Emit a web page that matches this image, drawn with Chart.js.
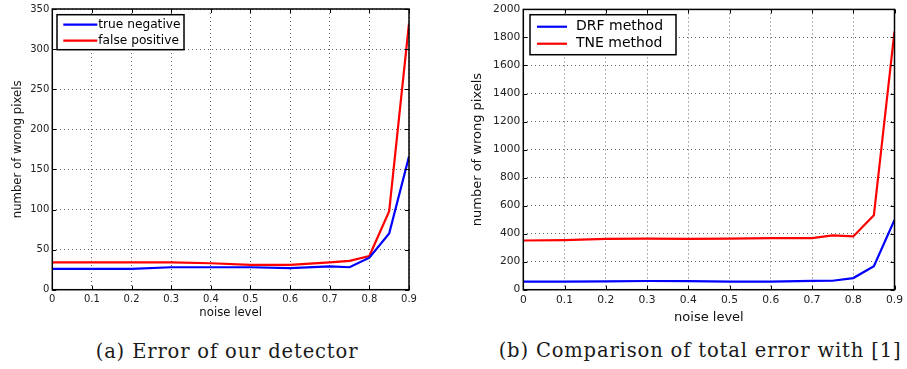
<!DOCTYPE html>
<html>
<head>
<meta charset="utf-8">
<script src="https://cdn.jsdelivr.net/npm/chart.js@4.4.0/dist/chart.umd.min.js"></script>
<style>
  html, body { margin: 0; padding: 0; background: #fff; width: 907px; height: 369px; overflow: hidden; }
  .box { position: absolute; }
  .cap { position: absolute; font-family: "DejaVu Serif", serif; font-size: 19.5px; letter-spacing: 0.85px; color: #1a1a1a; white-space: nowrap; text-align: center; line-height: 24px; }
</style>
</head>
<body>
<div class="box" style="left:0;top:0;"><canvas id="chartA" width="460" height="325"></canvas></div>
<div class="box" style="left:460px;top:0;"><canvas id="chartB" width="447" height="325"></canvas></div>
<div class="cap" style="left:0;width:454px;top:340px;">(a) Error of our detector</div>
<div class="cap" style="left:453px;width:494px;top:339px;">(b) Comparison of total error with [1]</div>

<script>
// noise levels (x axis)
const noiseLevels = [0, 0.1, 0.2, 0.3, 0.4, 0.5, 0.6, 0.7, 0.75, 0.8, 0.85, 0.9];
const xTicks = [0, 0.1, 0.2, 0.3, 0.4, 0.5, 0.6, 0.7, 0.8, 0.9];

// (a) error of our detector
const trueNegative = [26, 26, 26, 28, 28, 28, 27, 29, 28, 40, 70, 166];
const falsePositive = [34, 34, 34, 34, 33, 31, 31, 34, 36, 42, 98, 332];
const yTicksA = [0, 50, 100, 150, 200, 250, 300, 350];

// (b) comparison of total error
const drfMethod = [57, 58, 60, 62, 61, 58, 57, 63, 64, 83, 168, 498];
const tneMethod = [351, 354, 363, 365, 363, 365, 368, 368, 387, 380, 531, 1843];
const yTicksB = [0, 200, 400, 600, 800, 1000, 1200, 1400, 1600, 1800, 2000];

// frame, inner tick marks and boxed legend, matplotlib style
const framePlugin = {
    id: 'frame',
    afterDraw(chart, args, opts) {
        const { ctx, chartArea: a, scales: { x, y } } = chart;
        ctx.save();
        ctx.setLineDash([]);
        ctx.strokeStyle = '#000';
        ctx.lineWidth = 1;
        ctx.beginPath();
        x.ticks.forEach(t => {
            const px = Math.round(x.getPixelForValue(t.value)) + 0.5;
            ctx.moveTo(px, a.bottom); ctx.lineTo(px, a.bottom - 4);
            ctx.moveTo(px, a.top); ctx.lineTo(px, a.top + 4);
        });
        y.ticks.forEach(t => {
            const py = Math.round(y.getPixelForValue(t.value)) + 0.5;
            ctx.moveTo(a.left, py); ctx.lineTo(a.left + 4, py);
            ctx.moveTo(a.right, py); ctx.lineTo(a.right - 4, py);
        });
        ctx.stroke();
        ctx.lineWidth = 1.5;
        ctx.strokeRect(a.left, a.top, a.right - a.left, a.bottom - a.top);

        // legend
        const bx = a.left + opts.x, by = a.top + opts.y;
        ctx.fillStyle = '#fff';
        ctx.fillRect(bx, by, opts.w, opts.h);
        ctx.strokeRect(bx, by, opts.w, opts.h);
        ctx.font = opts.size + 'px "DejaVu Sans"';
        ctx.textBaseline = 'middle';
        chart.data.datasets.forEach((ds, i) => {
            const ry = by + opts.rows[i];
            ctx.strokeStyle = ds.borderColor;
            ctx.lineWidth = 2.2;
            ctx.beginPath();
            ctx.moveTo(bx + opts.lineX, ry);
            ctx.lineTo(bx + opts.lineX + opts.lineLen, ry);
            ctx.stroke();
            ctx.fillStyle = '#000';
            ctx.fillText(ds.label, bx + opts.textX, ry);
        });
        ctx.restore();
    }
};

function makeChart(id, sets, yTicks, s) {
    const ctx = document.getElementById(id).getContext('2d');
    return new Chart(ctx, {
        type: 'line',
        data: {
            datasets: sets.map(d => ({
                label: d.label,
                data: noiseLevels.map((v, i) => ({ x: v, y: d.values[i] })),
                borderColor: d.color,
                backgroundColor: d.color,
                borderWidth: 2.2,
                pointRadius: 0,
                tension: 0,
                fill: false
            }))
        },
        options: {
            responsive: false,
            animation: false,
            layout: { padding: { left: 0, top: s.top, right: s.right, bottom: 0 } },
            scales: {
                x: {
                    type: 'linear',
                    min: 0,
                    max: 0.9,
                    afterBuildTicks: sc => { sc.ticks = xTicks.map(v => ({ value: v })); },
                    afterFit: sc => { sc.height = s.xHeight; },
                    ticks: {
                        font: { family: 'DejaVu Sans', size: s.tick },
                        color: '#222',
                        padding: s.xPad,
                        maxRotation: 0,
                        autoSkip: false,
                        callback: v => String(+v.toFixed(2))
                    },
                    grid: { color: 'rgba(0,0,0,0.6)', lineWidth: 1, drawTicks: false },
                    border: { display: false, dash: [1, 3] },
                    title: {
                        display: true,
                        text: 'noise level',
                        font: { family: 'DejaVu Sans', size: s.title },
                        color: '#111',
                        padding: { top: 0, bottom: s.xTitlePad }
                    }
                },
                y: {
                    min: yTicks[0],
                    max: yTicks[yTicks.length - 1],
                    afterBuildTicks: sc => { sc.ticks = yTicks.map(v => ({ value: v })); },
                    afterFit: sc => { sc.width = s.yWidth; },
                    ticks: {
                        font: { family: 'DejaVu Sans', size: s.tick },
                        color: '#222',
                        padding: 3,
                        callback: v => String(v)
                    },
                    grid: { color: 'rgba(0,0,0,0.6)', lineWidth: 1, drawTicks: false },
                    border: { display: false, dash: [1, 3] },
                    title: {
                        display: true,
                        text: 'number of wrong pixels',
                        font: { family: 'DejaVu Sans', size: s.title },
                        color: '#111',
                        padding: { top: s.yTitlePad, bottom: 0 }
                    }
                }
            },
            plugins: {
                legend: { display: false },
                tooltip: { enabled: false },
                frame: s.legend
            }
        },
        plugins: [framePlugin]
    });
}

makeChart('chartA', [
    { label: 'true negative', values: trueNegative, color: '#0000ff' },
    { label: 'false positive', values: falsePositive, color: '#ff0000' }
], yTicksA, {
    top: 8.3, right: 51, xHeight: 35.3, yWidth: 52.3, tick: 10, title: 11.7,
    xPad: 4, xTitlePad: 5, yTitlePad: 11,
    legend: { x: 4.7, y: 5.7, w: 127, h: 35, lineX: 6.3, lineLen: 34, textX: 41.3, rows: [10, 26], size: 12.2 }
});

makeChart('chartB', [
    { label: 'DRF method', values: drfMethod, color: '#0000ff' },
    { label: 'TNE method', values: tneMethod, color: '#ff0000' }
], yTicksB, {
    top: 8.7, right: 11, xHeight: 35.3, yWidth: 63.3, tick: 10.7, title: 13,
    xPad: 4, xTitlePad: 0, yTitlePad: 10.2,
    legend: { x: 6.7, y: 5.3, w: 146, h: 40, lineX: 7, lineLen: 30, textX: 46, rows: [12, 29], size: 14 }
});
</script>
</body>
</html>
